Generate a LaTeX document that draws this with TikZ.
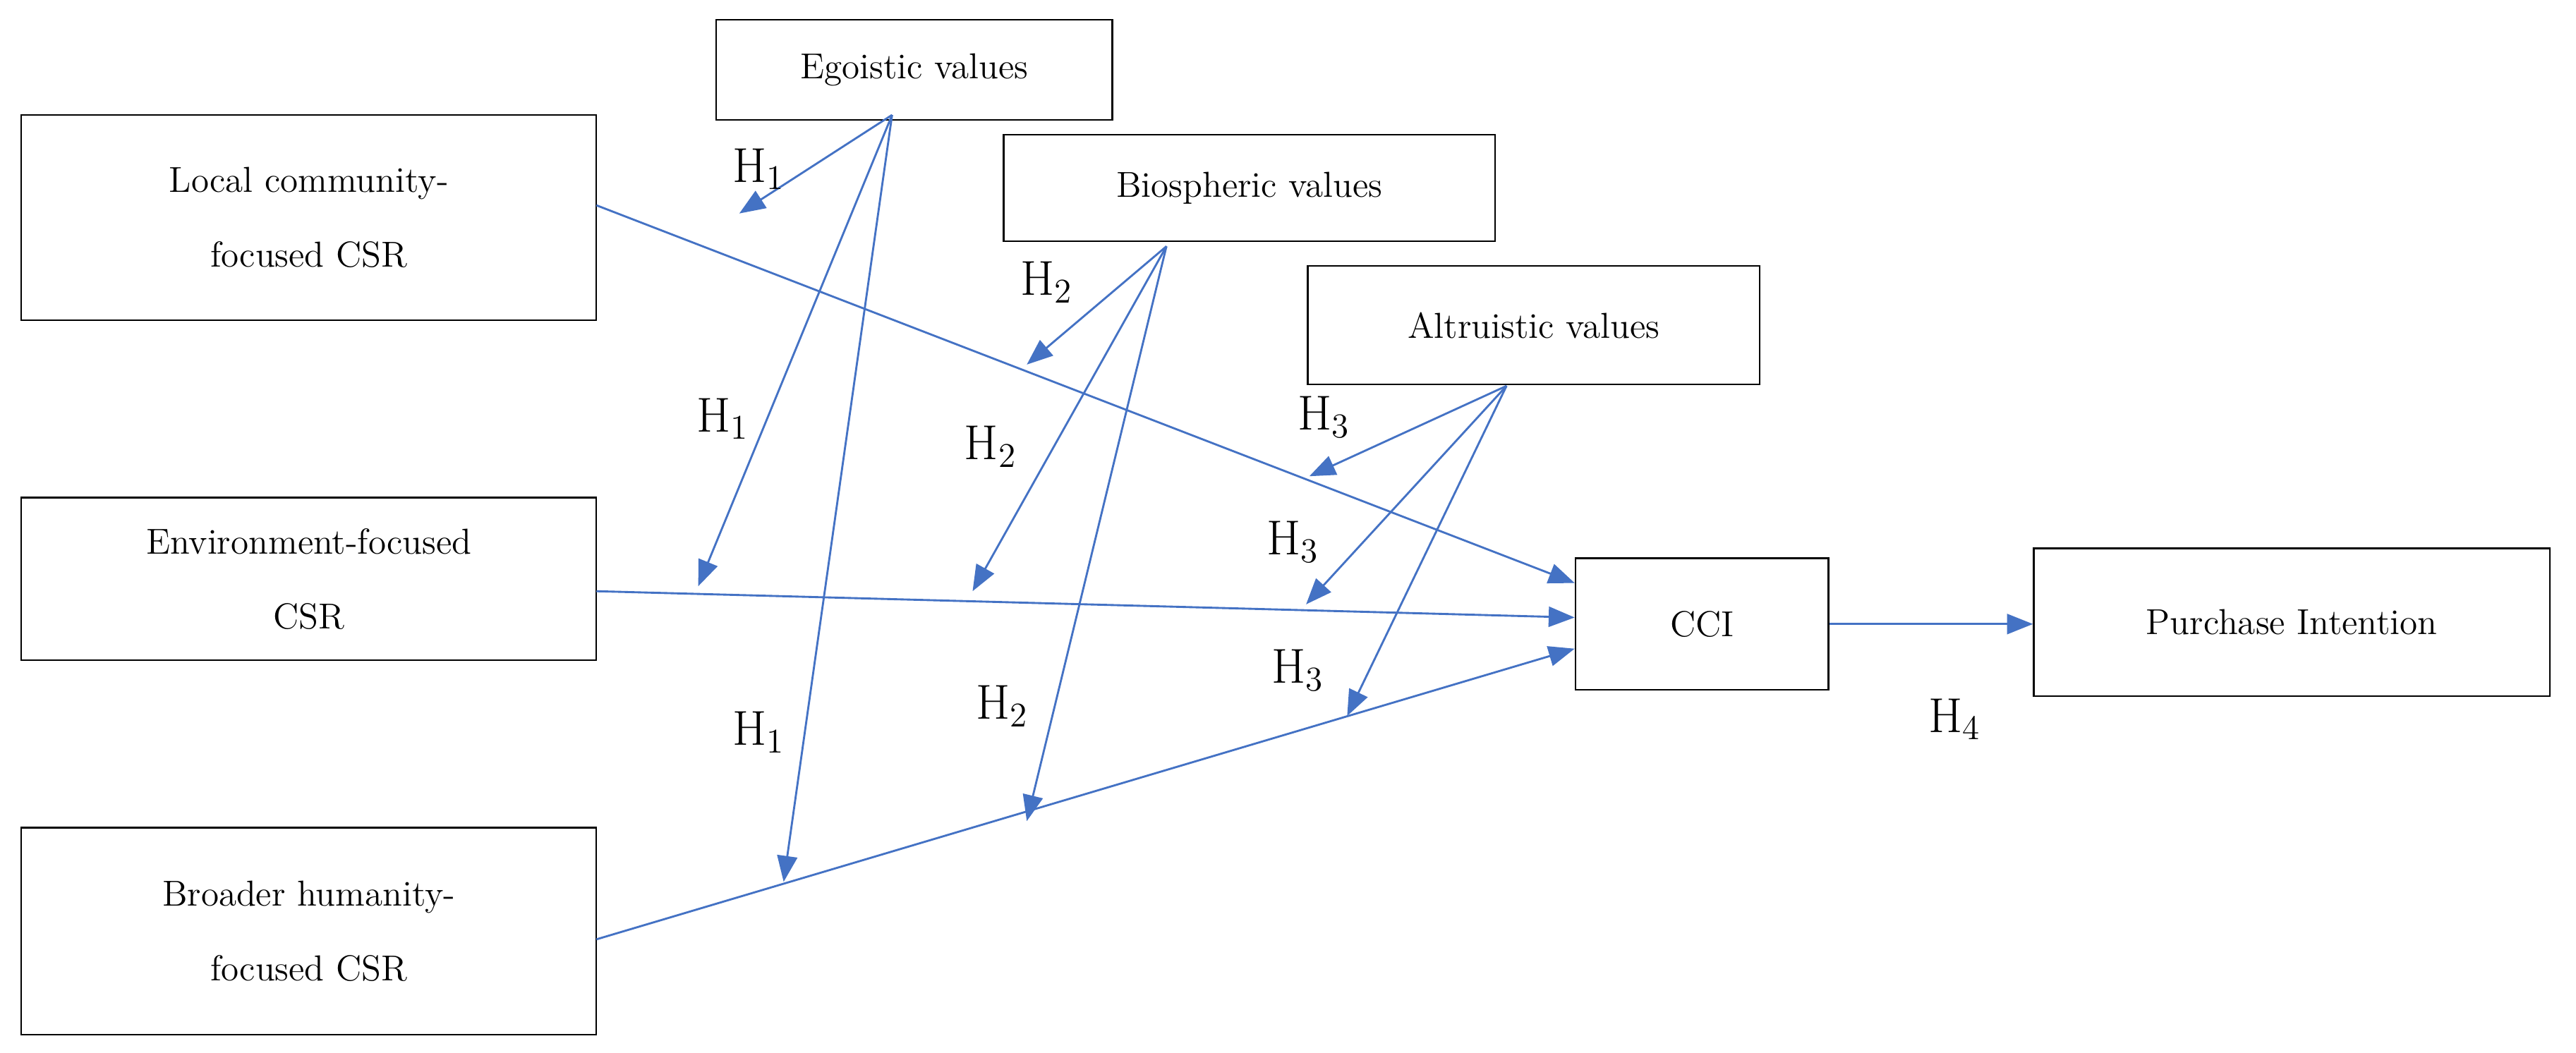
\documentclass[tikz,border=0pt]{standalone}
\usetikzlibrary{arrows.meta}
\begin{document}
\begin{tikzpicture}[x=0.02cm,y=-0.02cm,
  box/.style={draw=black,line width=0.6pt,inner sep=0pt,align=center,font=\fontsize{12.5}{26}\selectfont},
  arr/.style={draw={rgb,255:red,68;green,114;blue,196},line width=0.7pt,-{Triangle[length=9pt,width=7pt]}},
  hl/.style={font=\fontsize{17}{17}\selectfont}]
\useasboundingbox (0,0) rectangle (1568,641);
\node[box,minimum width=241*0.02cm,minimum height=61*0.02cm] (ego) at (556.5,42.5) {Egoistic values};
\node[box,minimum width=350*0.02cm,minimum height=125*0.02cm] (loc) at (188,132.5) {Local community-\\focused CSR};
\node[box,minimum width=299*0.02cm,minimum height=65*0.02cm] (bio) at (760.5,114.5) {Biospheric values};
\node[box,minimum width=275*0.02cm,minimum height=72*0.02cm] (alt) at (933.5,198) {Altruistic values};
\node[box,minimum width=350*0.02cm,minimum height=99*0.02cm] (env) at (188,352.5) {Environment-focused\\CSR};
\node[box,minimum width=154*0.02cm,minimum height=80*0.02cm] (cci) at (1036,380) {CCI};
\node[box,minimum width=314*0.02cm,minimum height=90*0.02cm] (pi) at (1395,379) {Purchase Intention};
\node[box,minimum width=350*0.02cm,minimum height=126*0.02cm] (bro) at (188,567) {Broader humanity-\\focused CSR};
\coordinate (egs) at (543,70);
\coordinate (bis) at (710,150);
\coordinate (als) at (917,235);
\coordinate (e1) at (450,130); \coordinate (e2) at (425,357); \coordinate (e3) at (477,537);
\coordinate (b1) at (625,222); \coordinate (b2) at (592,360); \coordinate (b3) at (625,500);
\coordinate (a1) at (797,290); \coordinate (a2) at (795,368); \coordinate (a3) at (820,436);
\draw[arr] (363,125) -- (cci.west|-0,355);
\draw[arr] (363,360) -- (cci.west|-0,376);
\draw[arr] (363,572) -- (cci.west|-0,395);
\draw[arr] (cci.east|-0,380) -- (pi.west|-0,380);
\foreach \t in {e1,e2,e3} \draw[arr] (egs) -- (\t);
\foreach \t in {b1,b2,b3} \draw[arr] (bis) -- (\t);
\foreach \t in {a1,a2,a3} \draw[arr] (als) -- (\t);
\node[hl] (h1a) at (462,103) {H$_1$};
\node[hl] (h1b) at (440,255) {H$_1$};
\node[hl] (h1c) at (462,446) {H$_1$};
\node[hl] (h2a) at (637,172) {H$_2$};
\node[hl] (h2b) at (603,272) {H$_2$};
\node[hl] (h2c) at (610,430) {H$_2$};
\node[hl] (h3a) at (806,254) {H$_3$};
\node[hl] (h3b) at (787,330) {H$_3$};
\node[hl] (h3c) at (790,408) {H$_3$};
\node[hl] (h4) at (1190,438) {H$_4$};
\end{tikzpicture}
\end{document}
